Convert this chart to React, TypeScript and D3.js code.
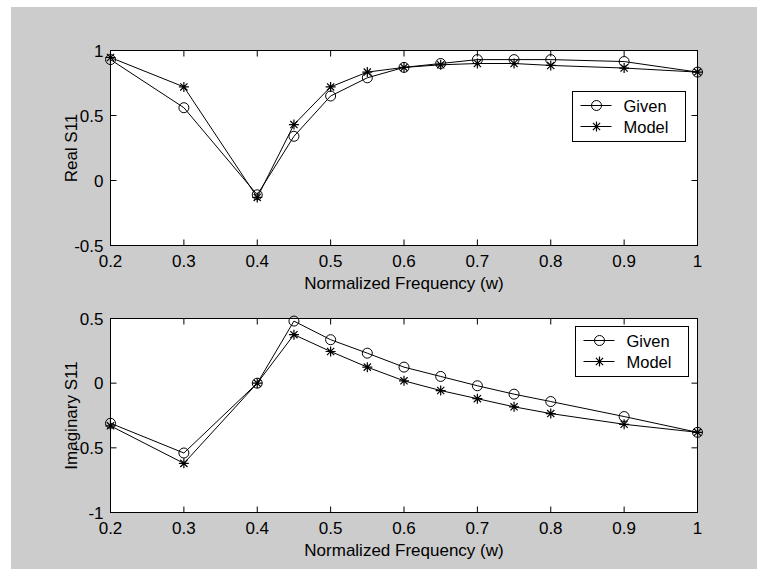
import React from "react";
import * as d3 from "d3";

// normalized frequency samples
const freq = [0.2, 0.3, 0.4, 0.45, 0.5, 0.55, 0.6, 0.65, 0.7, 0.75, 0.8, 0.9, 1.0];

// real part of S11
const realGiven = [0.93, 0.56, -0.11, 0.34, 0.65, 0.79, 0.87, 0.9, 0.93, 0.93, 0.93, 0.915, 0.834];
const realModel = [0.946, 0.72, -0.13, 0.43, 0.72, 0.834, 0.87, 0.89, 0.9, 0.9, 0.885, 0.865, 0.834];

// imaginary part of S11
const imagGiven = [-0.31, -0.54, 0, 0.48, 0.336, 0.232, 0.124, 0.052, -0.02, -0.085, -0.142, -0.258, -0.38];
const imagModel = [-0.33, -0.62, 0, 0.375, 0.245, 0.124, 0.018, -0.057, -0.12, -0.183, -0.235, -0.318, -0.38];

const xTicks = [0.2, 0.3, 0.4, 0.5, 0.6, 0.7, 0.8, 0.9, 1];
const realTicks = [-0.5, 0, 0.5, 1];
const imagTicks = [-1, -0.5, 0, 0.5];

const seriesNames = ["Given", "Model"];
const xLabel = "Normalized Frequency (w)";

const FONT = "'Liberation Sans', Arial, Helvetica, sans-serif";
const TICK = 6;

const Circle = ({ x, y }: { x: number; y: number }) => (
  <circle cx={x} cy={y} r={5} fill="none" stroke="#000" strokeWidth={1} />
);

const Star = ({ x, y }: { x: number; y: number }) => {
  const s = 5;
  const d = 3.6;
  return (
    <path
      d={`M${x - s},${y}L${x + s},${y}M${x},${y - s}L${x},${y + s}M${x - d},${y - d}L${x + d},${y + d}M${x - d},${y + d}L${x + d},${y - d}`}
      stroke="#000"
      strokeWidth={1.2}
      fill="none"
    />
  );
};

type PanelProps = {
  top: number;
  bottom: number;
  yDomain: [number, number];
  yTicks: number[];
  given: number[];
  model: number[];
  yLabel: string;
  legend: { x: number; y: number };
};

const Panel = ({ top, bottom, yDomain, yTicks, given, model, yLabel, legend }: PanelProps) => {
  const left = 110.5;
  const right = 697.5;
  const x = d3.scaleLinear().domain([0.2, 1]).range([left, right]);
  const y = d3.scaleLinear().domain(yDomain).range([bottom, top]);

  const line = d3
    .line<number>()
    .x((d, i) => x(freq[i]))
    .y((d) => y(d));

  const lw = 113;
  const lh = 50;

  return (
    <g fontFamily={FONT}>
      <rect x={left} y={top} width={right - left} height={bottom - top} fill="#fff" />

      <path d={line(given) || ""} fill="none" stroke="#000" strokeWidth={1} />
      <path d={line(model) || ""} fill="none" stroke="#000" strokeWidth={1} />
      {given.map((d, i) => (
        <Circle key={"g" + i} x={x(freq[i])} y={y(d)} />
      ))}
      {model.map((d, i) => (
        <Star key={"m" + i} x={x(freq[i])} y={y(d)} />
      ))}

      <rect x={left} y={top} width={right - left} height={bottom - top} fill="none" stroke="#000" strokeWidth={1} />

      {/* x ticks, inward on top and bottom */}
      {xTicks.map((t) => (
        <g key={"x" + t}>
          <line x1={x(t)} x2={x(t)} y1={bottom} y2={bottom - TICK} stroke="#000" />
          <line x1={x(t)} x2={x(t)} y1={top} y2={top + TICK} stroke="#000" />
          <text x={x(t)} y={bottom + 21} fontSize={17} textAnchor="middle" fill="#000">
            {String(t)}
          </text>
        </g>
      ))}

      {/* y ticks, inward on left and right */}
      {yTicks.map((t) => (
        <g key={"y" + t}>
          <line x1={left} x2={left + TICK} y1={y(t)} y2={y(t)} stroke="#000" />
          <line x1={right} x2={right - TICK} y1={y(t)} y2={y(t)} stroke="#000" />
          <text x={103.5} y={y(t) + 6} fontSize={17} textAnchor="end" fill="#000">
            {String(t)}
          </text>
        </g>
      ))}

      <text x={(left + right) / 2} y={bottom + 43} fontSize={17} textAnchor="middle" fill="#000">
        {xLabel}
      </text>
      <text
        transform={`translate(77,${(top + bottom) / 2}) rotate(-90)`}
        fontSize={17}
        textAnchor="middle"
        fill="#000"
      >
        {yLabel}
      </text>

      {/* legend */}
      <g transform={`translate(${legend.x},${legend.y})`}>
        <rect x={0} y={0} width={lw} height={lh} fill="#fff" stroke="#000" strokeWidth={1} />
        {seriesNames.map((name, i) => {
          const ry = 14 + i * 21;
          return (
            <g key={name}>
              <line x1={8} x2={39} y1={ry} y2={ry} stroke="#000" />
              {i === 0 ? <Circle x={24} y={ry} /> : <Star x={24} y={ry} />}
              <text x={51} y={ry + 6} fontSize={16.5} fill="#000">
                {name}
              </text>
            </g>
          );
        })}
      </g>
    </g>
  );
};

export default function App() {
  return (
    <svg
      width={757}
      height={569}
      style={{ position: "absolute", left: 0, top: 0, background: "#fff" }}
    >
      <rect x={11} y={7} width={746} height={562} fill="#cccccc" />
      <Panel
        top={50.5}
        bottom={245.5}
        yDomain={[-0.5, 1]}
        yTicks={realTicks}
        given={realGiven}
        model={realModel}
        yLabel="Real S11"
        legend={{ x: 572.5, y: 91.5 }}
      />
      <Panel
        top={318.5}
        bottom={512.5}
        yDomain={[-1, 0.5]}
        yTicks={imagTicks}
        given={imagGiven}
        model={imagModel}
        yLabel="Imaginary S11"
        legend={{ x: 575.5, y: 326.5 }}
      />
    </svg>
  );
}
